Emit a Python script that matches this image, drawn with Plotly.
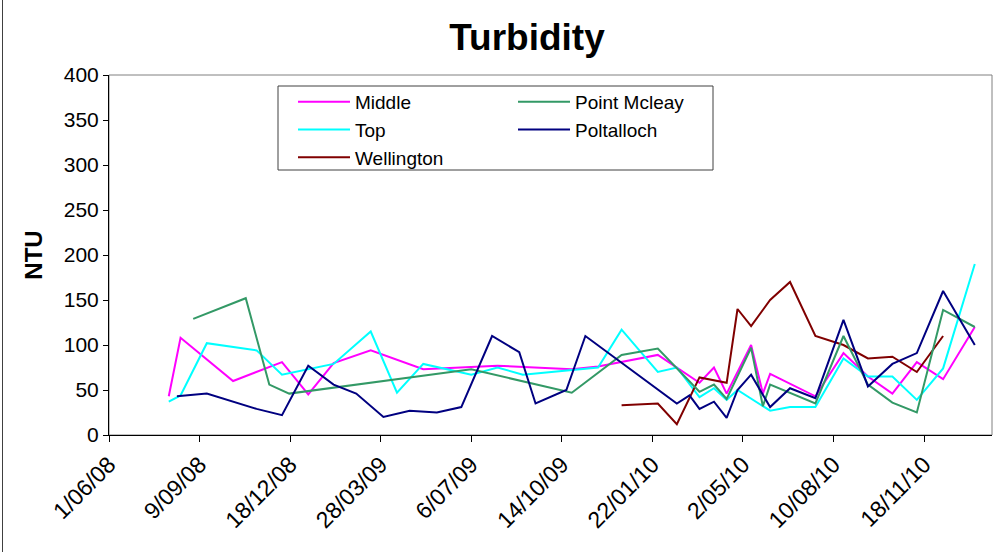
import plotly.graph_objects as go

# ---------------- data ----------------
middle_dates = ["2008-08-06", "2008-08-19", "2008-10-16", "2008-12-09", "2009-01-07", "2009-02-04",
                "2009-03-17", "2009-05-14", "2009-08-04", "2009-10-25", "2009-11-23", "2010-01-28",
                "2010-03-15", "2010-03-31", "2010-04-14", "2010-05-11", "2010-05-24", "2010-06-01",
                "2010-07-21", "2010-08-21", "2010-09-17", "2010-10-14", "2010-11-10", "2010-12-09",
                "2011-01-13"]
middle_vals = [43, 108, 60, 81, 45, 80, 94, 73, 77, 73, 76, 89, 58, 75, 46, 100, 46, 68, 43, 91,
               65, 46, 81, 62, 120]

top_dates = ["2008-08-06", "2008-08-19", "2008-09-17", "2008-11-11", "2008-12-09", "2009-02-04",
             "2009-03-17", "2009-04-15", "2009-05-14", "2009-07-06", "2009-08-04", "2009-09-01",
             "2009-11-23", "2009-12-19", "2010-01-28", "2010-02-18", "2010-03-15", "2010-03-31",
             "2010-04-14", "2010-04-26", "2010-06-01", "2010-06-23", "2010-07-21", "2010-08-21",
             "2010-09-17", "2010-10-14", "2010-11-10", "2010-12-09", "2011-01-13"]
top_vals = [37, 44, 102, 94, 67, 79, 115, 47, 79, 67, 75, 67, 75, 117, 70, 75, 42, 52, 39, 50,
            27, 31, 31, 85, 65, 65, 39, 74, 190]

mcleay_dates = ["2008-09-02", "2008-10-30", "2008-11-25", "2008-12-17", "2009-07-06", "2009-10-25",
                "2009-12-19", "2010-01-28", "2010-03-15", "2010-03-31", "2010-04-14", "2010-05-11",
                "2010-05-24", "2010-06-01", "2010-07-21", "2010-08-21", "2010-09-17", "2010-10-14",
                "2010-11-10", "2010-12-09", "2011-01-13"]
mcleay_vals = [129, 152, 56, 46, 73, 47, 89, 96, 48, 56, 40, 97, 32, 56, 35, 110, 56, 36, 25, 139, 120]

polt_dates = ["2008-08-15", "2008-09-17", "2008-11-11", "2008-12-09", "2009-01-07", "2009-02-04",
              "2009-03-01", "2009-03-31", "2009-04-29", "2009-05-29", "2009-06-25", "2009-07-29",
              "2009-08-28", "2009-09-15", "2009-10-19", "2009-11-09", "2010-02-18", "2010-03-04",
              "2010-03-15", "2010-03-31", "2010-04-14", "2010-04-26", "2010-05-11", "2010-06-01",
              "2010-06-23", "2010-07-21", "2010-08-21", "2010-09-17", "2010-10-14", "2010-11-10",
              "2010-12-09", "2011-01-13"]
polt_vals = [43, 46, 29, 22, 77, 56, 46, 20, 27, 25, 31, 110, 92, 35, 50, 110, 35, 44, 29, 37, 19,
             50, 67, 31, 52, 41, 128, 54, 79, 91, 160, 100]

well_dates = ["2009-12-19", "2010-01-28", "2010-02-18", "2010-03-15", "2010-04-14", "2010-04-26",
              "2010-05-11", "2010-06-01", "2010-06-23", "2010-07-21", "2010-08-21", "2010-09-17",
              "2010-10-14", "2010-11-10", "2010-12-09"]
well_vals = [33, 35, 12, 64, 58, 140, 121, 150, 170, 110, 100, 85, 87, 70, 110]

tick_dates = ["2008-06-01", "2008-09-09", "2008-12-18", "2009-03-28", "2009-07-06",
              "2009-10-14", "2010-01-22", "2010-05-02", "2010-08-10", "2010-11-18"]
tick_labels = ["1/06/08", "9/09/08", "18/12/08", "28/03/09", "6/07/09",
               "14/10/09", "22/01/10", "2/05/10", "10/08/10", "18/11/10"]

# ---------------- layout constants ----------------
W, H = 1006, 552
L, R, T, B = 109, 992, 75, 435
PW, PH = R - L, B - T


def px(xp):
    return (xp - L) / PW


def py(yp):
    return (B - yp) / PH


FONT = "Liberation Sans, Arial, sans-serif"

fig = go.Figure()
series = [
    ("Middle", middle_dates, middle_vals, "#FF00FF", "legend"),
    ("Top", top_dates, top_vals, "#00FFFF", "legend"),
    ("Wellington", well_dates, well_vals, "#800000", "legend"),
    ("Point Mcleay", mcleay_dates, mcleay_vals, "#339966", "legend2"),
    ("Poltalloch", polt_dates, polt_vals, "#000080", "legend2"),
]
for name, d, v, c, lg in series:
    fig.add_trace(go.Scatter(x=d, y=v, name=name, mode="lines",
                             line=dict(color=c, width=2), legend=lg))

legend_common = dict(
    bgcolor="rgba(0,0,0,0)", borderwidth=0, itemwidth=52,
    font=dict(family=FONT, size=19, color="black"),
    xanchor="left", yanchor="top", orientation="v", tracegroupgap=0,
    itemclick=False, itemdoubleclick=False,
)

fig.update_layout(
    width=W, height=H,
    margin=dict(l=L, r=W - R, t=T, b=H - B),
    paper_bgcolor="white", plot_bgcolor="white",
    font=dict(family=FONT, color="black"),
    title=dict(text="<b>Turbidity</b>", x=px(527), xref="paper", xanchor="center",
               y=1 - 37 / H, yanchor="middle",
               font=dict(family=FONT, size=37, color="black")),
    showlegend=True,
    legend=dict(x=px(293), y=py(83), **legend_common),
    legend2=dict(x=px(513), y=py(83), **legend_common),
    xaxis=dict(
        type="date", range=["2008-06-01", "2011-02-01"],
        tickvals=tick_dates, ticktext=tick_labels, tickangle=-45,
        ticks="outside", ticklen=6, tickcolor="black", tickwidth=1,
        showline=True, linecolor="black", linewidth=1,
        showgrid=False, zeroline=False,
        tickfont=dict(family=FONT, size=23, color="black"),
    ),
    yaxis=dict(
        range=[0, 400], tickvals=list(range(0, 401, 50)),
        ticks="outside", ticklen=5, tickcolor="black", tickwidth=1,
        showline=True, linecolor="black", linewidth=1,
        showgrid=False, zeroline=False,
        title=dict(text="<b>NTU</b>", font=dict(family=FONT, size=24, color="black"), standoff=14),
        tickfont=dict(family=FONT, size=21, color="black"),
    ),
    shapes=[
        # plot-area border (top/right grey)
        dict(type="rect", xref="paper", yref="paper", x0=0, x1=1, y0=0, y1=1,
             line=dict(color="#808080", width=1), layer="below"),
        # legend box
        dict(type="rect", xref="paper", yref="paper",
             x0=px(278), x1=px(713), y0=py(170), y1=py(86),
             line=dict(color="#404040", width=1), fillcolor="rgba(0,0,0,0)", layer="below"),
        # chart-area border (left edge)
        dict(type="line", xref="paper", yref="paper",
             x0=px(2.5), x1=px(2.5), y0=py(552), y1=py(0),
             line=dict(color="#404040", width=1), layer="below"),
    ],
)

fig.write_html("out.html")
